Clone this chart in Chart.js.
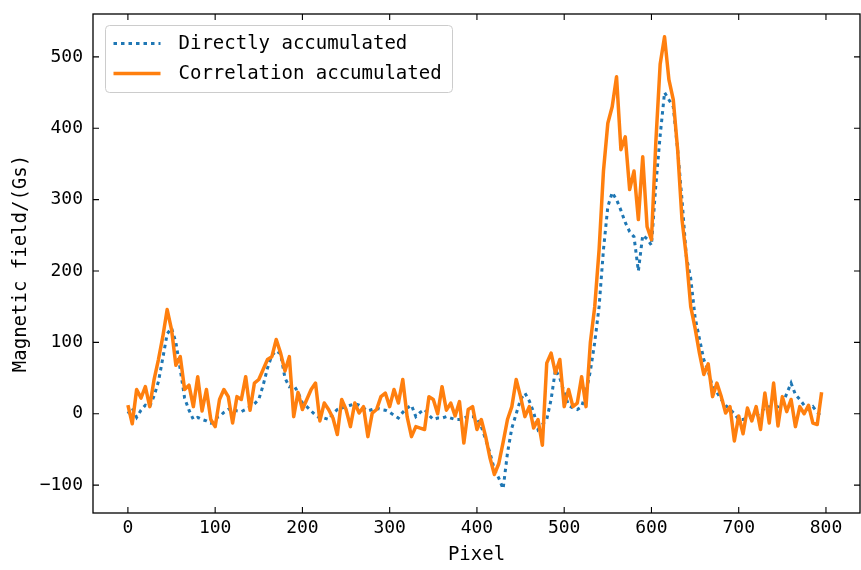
<!DOCTYPE html>
<html>
<head>
<meta charset="utf-8">
<script src="https://cdn.jsdelivr.net/npm/chart.js@4.4.1/dist/chart.umd.min.js"></script>
<style>
  html, body { margin: 0; padding: 0; background: #fff; }
  #wrap { width: 861px; height: 570px; }
</style>
</head>
<body>
<div id="wrap"><canvas id="chartCampo"></canvas></div>
<script>
// sample spacing along the pixel axis (one reading every 5 pixels)
var passoPixel = 5;

var ticksX = [0, 100, 200, 300, 400, 500, 600, 700, 800];
var ticksY = [-100, 0, 100, 200, 300, 400, 500];

var nomeDireto = 'Directly accumulated';
var nomeCorrelacao = 'Correlation accumulated';

// Directly accumulated (read every 5 px, from 0 to 795)
var valoresDireto = [
  0, 8, -5, 5, 12, 10, 25, 45, 78, 112,
  120, 100, 62, 22, 5, -8, -5, -8, -10, -13,
  -6, -4, 2, 6, 8, 4, 3, 6, 10, 14,
  20, 40, 64, 82, 88, 84, 50, 38, 40, 30,
  15, 10, 4, -2, -6, -6, -8, 0, 6, 8,
  10, 12, 14, 12, 8, 4, 6, 8, 6, 5,
  2, -2, -6, 2, 8, 12, -4, 2, 6, -2,
  -8, -6, -6, -4, -6, -8, -8, -6, -4, -4,
  -6, -18, -36, -55, -78, -90, -105, -55, -20, 0,
  20, 29, 18, 2, -22, -15, -8, 20, 62, 50,
  30, 12, 8, 6, 10, 30, 60, 100, 150, 230,
  290, 310, 300, 285, 268, 255, 248, 200, 250, 245,
  236, 320, 390, 450, 440, 430, 370, 300, 220, 190,
  135, 105, 76, 60, 38, 30, 20, 12, 6, 0,
  -8, -8, -6, -4, -3, 2, 8, 10, 10, 10,
  14, 28, 43, 27, 20, 12, 6, 10, 2, -4
];

// Correlation accumulated (same sampling)
var valoresCorrelacao = [
  12, -14, 34, 22, 38, 10, 48, 76, 108, 146,
  118, 68, 80, 34, 40, 10, 52, 4, 34, -8,
  -18, 20, 34, 24, -13, 24, 20, 52, 5, 43,
  48, 62, 76, 80, 104, 85, 60, 80, -4, 30,
  6, 20, 34, 43, -10, 15, 6, -6, -29, 20,
  6, -18, 15, 1, 10, -32, 1, 6, 24, 29,
  10, 34, 15, 48, -4, -32, -18, -20, -22, 24,
  20, 0, 38, 5, 15, -3, 17, -41, 6, 10,
  -22, -8, -32, -62, -85, -70, -40, -8, 10, 48,
  24, -4, 10, -20, -8, -44, 71, 85, 57, 76,
  10, 34, 10, 15, 52, 10, 100, 150, 230, 340,
  407, 430, 472, 370, 388, 314, 340, 272, 360, 262,
  244, 380, 490, 528, 468, 440, 370, 272, 220, 150,
  120, 85, 55, 70, 24, 43, 24, 1, 10, -38,
  -3, -28, 8, -10, 10, -22, 29, -13, 43, -17,
  24, 3, 20, -18, 10, 0, 12, -13, -15, 30
];

var corDireto = '#1f77b4';
var corCorrelacao = '#ff7f0e';
var fonte = '"DejaVu Sans Mono", monospace';

function paraPontos(valores) {
  return valores.map(function(v, i) { return { x: i * passoPixel, y: v }; });
}

// frame with inward ticks on all four sides
var molduraTicks = {
  id: 'molduraTicks',
  afterDatasetsDraw: function(chart) {
    var ctx = chart.ctx, a = chart.chartArea;
    var sx = chart.scales.x, sy = chart.scales.y;
    var tam = 6;
    ctx.save();
    ctx.strokeStyle = '#000';
    ctx.lineWidth = 1.3;
    ctx.strokeRect(a.left, a.top, a.right - a.left, a.bottom - a.top);
    ctx.lineWidth = 1.1;
    ctx.beginPath();
    ticksX.forEach(function(v) {
      var px = sx.getPixelForValue(v);
      ctx.moveTo(px, a.bottom); ctx.lineTo(px, a.bottom - tam);
      ctx.moveTo(px, a.top); ctx.lineTo(px, a.top + tam);
    });
    ticksY.forEach(function(v) {
      var py = sy.getPixelForValue(v);
      ctx.moveTo(a.left, py); ctx.lineTo(a.left + tam, py);
      ctx.moveTo(a.right, py); ctx.lineTo(a.right - tam, py);
    });
    ctx.stroke();
    ctx.restore();
  }
};

// matplotlib-like legend box in the upper left corner
var legendaCaixa = {
  id: 'legendaCaixa',
  afterDraw: function(chart) {
    var ctx = chart.ctx, a = chart.chartArea;
    var x0 = a.left + 12.5, y0 = a.top + 11.5;
    ctx.save();
    ctx.beginPath();
    ctx.roundRect(x0, y0, 347, 67, 4);
    ctx.fillStyle = 'rgba(255,255,255,0.8)';
    ctx.fill();
    ctx.strokeStyle = '#cccccc';
    ctx.lineWidth = 1;
    ctx.stroke();
    chart.data.datasets.forEach(function(ds, i) {
      var yl = y0 + 18 + i * 30;
      ctx.beginPath();
      ctx.setLineDash(ds.borderDash || []);
      ctx.lineCap = 'butt';
      ctx.strokeStyle = ds.borderColor;
      ctx.lineWidth = ds.borderWidth;
      ctx.moveTo(x0 + 8, yl);
      ctx.lineTo(x0 + 55, yl);
      ctx.stroke();
      ctx.setLineDash([]);
      ctx.fillStyle = '#000';
      ctx.font = '19px ' + fonte;
      ctx.textBaseline = 'middle';
      ctx.textAlign = 'left';
      ctx.fillText(ds.label, x0 + 73, yl + 1);
    });
    ctx.restore();
  }
};

var ctxCampo = document.getElementById('chartCampo').getContext('2d');

var configCampo = {
  type: 'line',
  data: {
    datasets: [{
      label: nomeDireto,
      data: paraPontos(valoresDireto),
      borderColor: corDireto,
      backgroundColor: corDireto,
      borderWidth: 3,
      borderDash: [3.5, 4],
      borderCapStyle: 'butt',
      pointRadius: 0,
      tension: 0,
      order: 2
    }, {
      label: nomeCorrelacao,
      data: paraPontos(valoresCorrelacao),
      borderColor: corCorrelacao,
      backgroundColor: corCorrelacao,
      borderWidth: 3.5,
      borderJoinStyle: 'round',
      pointRadius: 0,
      tension: 0,
      order: 1
    }]
  },
  options: {
    responsive: true,
    maintainAspectRatio: false,
    animation: false,
    devicePixelRatio: 1,
    layout: { padding: { top: 14, right: 1, left: 0, bottom: 0 } },
    plugins: {
      legend: { display: false },
      tooltip: { enabled: false }
    },
    scales: {
      x: {
        type: 'linear',
        min: -40,
        max: 839,
        grid: { display: false, drawTicks: false },
        border: { display: false },
        afterBuildTicks: function(scale) {
          scale.ticks = ticksX.map(function(v) { return { value: v }; });
        },
        afterFit: function(scale) {
          scale.height = 57;
          scale.paddingLeft = 0;
          scale.paddingRight = 0;
        },
        ticks: {
          color: '#000',
          padding: 5,
          maxRotation: 0,
          font: { family: fonte, size: 18 },
          callback: function(v) { return String(v).replace('-', '\u2212'); }
        },
        title: {
          display: true,
          text: 'Pixel',
          color: '#000',
          font: { family: fonte, size: 19 },
          padding: { top: 0, bottom: 4 }
        }
      },
      y: {
        type: 'linear',
        min: -139,
        max: 560,
        grid: { display: false, drawTicks: false },
        border: { display: false },
        afterBuildTicks: function(scale) {
          scale.ticks = ticksY.map(function(v) { return { value: v }; });
        },
        afterFit: function(scale) {
          scale.width = 93;
          scale.paddingTop = 0;
          scale.paddingBottom = 0;
        },
        ticks: {
          color: '#000',
          padding: 10,
          font: { family: fonte, size: 18 },
          callback: function(v) { return String(v).replace('-', '\u2212'); }
        },
        title: {
          display: true,
          text: 'Magnetic field/(Gs)',
          color: '#000',
          font: { family: fonte, size: 19 },
          padding: { top: 10, bottom: 0 }
        }
      }
    }
  },
  plugins: [molduraTicks, legendaCaixa]
};

var chartCampo = new Chart(ctxCampo, configCampo);
</script>
</body>
</html>
